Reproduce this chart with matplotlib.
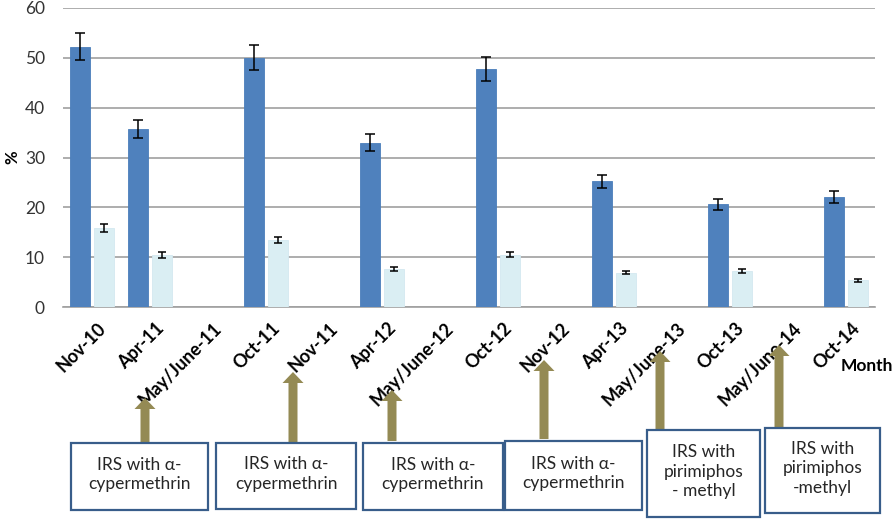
import numpy as np
import matplotlib
matplotlib.use('Agg')
import matplotlib.pyplot as plt
import matplotlib.transforms as mtransforms
from matplotlib.patches import FancyArrow, Rectangle

plt.rcParams['font.family'] = ['Lato', 'DejaVu Sans']

nan = np.nan
months = ['Nov-10', 'Apr-11', 'May/June-11', 'Oct-11', 'Nov-11', 'Apr-12', 'May/June-12',
          'Oct-12', 'Nov-12', 'Apr-13', 'May/June-13', 'Oct-13', 'May/June-14', 'Oct-14']
dark = [52.2, 35.7, nan, 50.0, nan, 33.0, nan, 47.7, nan, 25.2, nan, 20.6, nan, 22.1]
dark_err = [2.7, 1.75, nan, 2.5, nan, 1.7, nan, 2.4, nan, 1.35, nan, 1.1, nan, 1.15]
light = [15.9, 10.4, nan, 13.4, nan, 7.7, nan, 10.5, nan, 6.9, nan, 7.2, nan, 5.35]
light_err = [0.85, 0.55, nan, 0.6, nan, 0.4, nan, 0.5, nan, 0.35, nan, 0.4, nan, 0.35]

box_texts = ['IRS with \u03b1-\ncypermethrin', 'IRS with \u03b1-\ncypermethrin',
             'IRS with \u03b1-\ncypermethrin', 'IRS with \u03b1-\ncypermethrin',
             'IRS with\npirimiphos\n- methyl', 'IRS with\npirimiphos\n-methyl']
# box rectangles in pixels (left, top, right, bottom)
boxes = [(71, 443, 208, 510), (216, 443, 356, 509), (363, 443, 503, 510),
         (505, 441, 642, 510), (647, 430, 760, 517), (765, 428, 880, 513)]
# arrows in pixels (x, y_bottom, y_tip)
arrows = [(145, 443, 398), (293, 445, 372), (392, 441, 390),
          (544, 439, 360), (660, 430, 351), (779, 428, 345)]

W, H = 894, 521
fig = plt.figure(figsize=(W / 100, H / 100), dpi=100)
ax = fig.add_axes([63 / W, 1 - 307 / H, (875 - 63) / W, (307 - 8) / H])

x = np.arange(len(months))
bw = 0.34
ax.bar(x - 0.21, dark, bw, color='#4F81BD', edgecolor='#4A7EBB', linewidth=0.6, zorder=3)
ax.bar(x + 0.21, light, bw, color='#DAEEF3', edgecolor='#D3E8F0', linewidth=0.6, zorder=3)
ax.errorbar(x - 0.21, dark, yerr=dark_err, fmt='none', ecolor='black', elinewidth=1.1,
            capsize=3.6, capthick=1.1, zorder=4)
ax.errorbar(x + 0.21, light, yerr=light_err, fmt='none', ecolor='black', elinewidth=1.1,
            capsize=3.2, capthick=1.1, zorder=4)

ax.set_xlim(-0.5, 13.5)
ax.set_ylim(0, 60)
ax.set_yticks(range(0, 61, 10))
ax.yaxis.grid(True, color='#A0A0A0', linewidth=1.2, zorder=0)
ax.set_axisbelow(True)
for s in ['top', 'right', 'left']:
    ax.spines[s].set_visible(False)
ax.spines['bottom'].set_color('#A0A0A0')
ax.spines['bottom'].set_linewidth(1.2)
ax.tick_params(axis='both', length=0)
ax.tick_params(axis='y', pad=13, labelsize=12.5, labelcolor='#333333')

ax.set_xticks(x)
ax.set_xticklabels(months, rotation=45, ha='right', va='top', rotation_mode='anchor',
                   fontsize=13, fontweight='bold')
ax.tick_params(axis='x', pad=9)
offset = mtransforms.ScaledTranslation(5 / 100, 0, fig.dpi_scale_trans)
for lab in ax.get_xticklabels():
    lab.set_transform(lab.get_transform() + offset)

fig.text(12 / W, 1 - 157 / H, '%', rotation=90, ha='center', va='center', fontsize=12,
         fontweight='bold')
fig.text(893 / W, 1 - 366 / H, 'Month', ha='right', va='center', fontsize=12.5,
         fontweight='bold')

# overlay in pixel coordinates for arrows and boxes
ov = fig.add_axes([0, 0, 1, 1])
ov.set_xlim(0, W)
ov.set_ylim(H, 0)
ov.axis('off')
ov.patch.set_alpha(0)

for ax_x, yb, yt in arrows:
    ov.add_patch(FancyArrow(ax_x, yb, 0, yt - yb, width=9, head_width=21, head_length=11,
                            length_includes_head=True, color='#948A54', lw=0))

for (l, t, r, b), txt in zip(boxes, box_texts):
    ov.add_patch(Rectangle((l, t), r - l, b - t, facecolor='white', edgecolor='#385D8A',
                           linewidth=1.6, zorder=3))
    ov.text((l + r) / 2, (t + b) / 2 - 2, txt, ha='center', va='center', fontsize=12.5,
            linespacing=1.3, color='#262626', zorder=4)

fig.savefig('out.png', dpi=100)
